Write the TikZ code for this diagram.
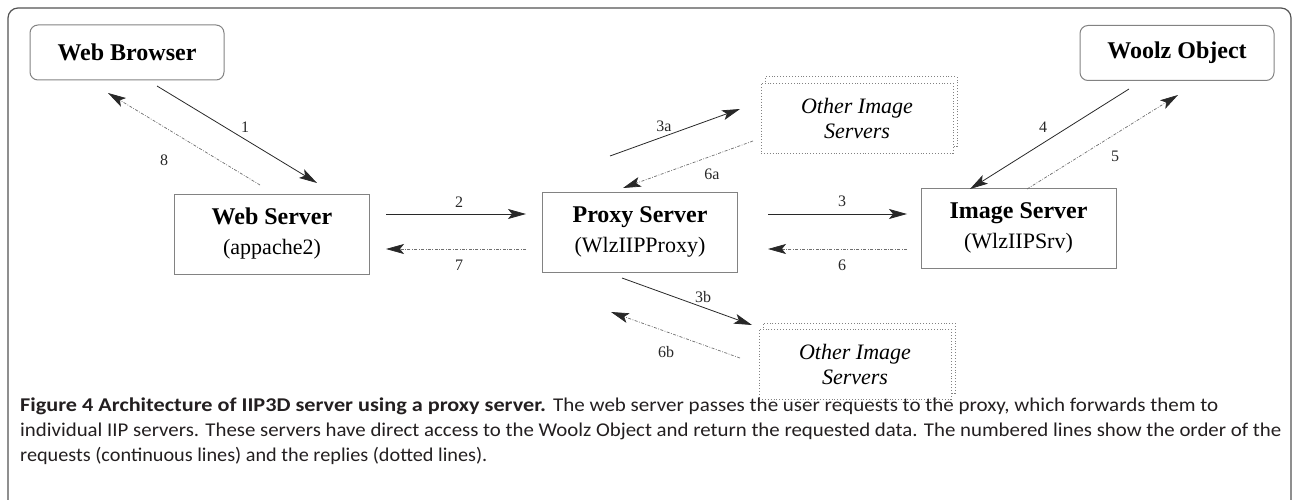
\documentclass[tikz,border=0pt]{standalone}
\usepackage{fontspec}
\usepackage{graphicx}
\setmainfont{Liberation Serif}
\newfontfamily\capfont{Carlito}
\usetikzlibrary{arrows.meta}
\definecolor{boxgray}{RGB}{130,130,130}
\definecolor{arrowc}{RGB}{40,40,40}
\definecolor{repc}{RGB}{110,110,110}
\definecolor{capc}{RGB}{35,31,32}
\tikzset{
  box/.style={draw=boxgray, line width=1pt, minimum width=195pt, minimum height=80pt, align=center, inner sep=0pt, font=\fontsize{22}{30}\selectfont},
  rbox/.style={box, rounded corners=8pt, minimum width=194pt, minimum height=55pt, font=\fontsize{24}{30}\selectfont\bfseries},
  obox/.style={draw=boxgray, dotted, line width=0.9pt, minimum width=192pt, minimum height=70pt, align=center, inner sep=0pt, font=\itshape\fontsize{22}{25}\selectfont},
  req/.style={draw=arrowc, line width=0.8pt, -{Stealth[length=18pt,width=10pt,inset=4pt,arrowc]}},
  rep/.style={draw=repc, line width=0.7pt, dash pattern=on 3pt off 1.5pt on 0.8pt off 1.5pt, -{Stealth[length=18pt,width=10pt,inset=4pt,arrowc]}},
  lbl/.style={font=\fontsize{16}{16}\selectfont, text=arrowc, inner sep=0pt},
  captext/.style={anchor=base west, inner sep=0pt, text=capc, font=\capfont\fontsize{19.5}{25}\selectfont}
}
\newcommand{\ttl}[1]{{\fontsize{24}{30}\selectfont\bfseries #1}}
\newcommand{\fitw}[2]{\resizebox{#1}{\height}{#2}}
\begin{document}
\begin{tikzpicture}[x=1pt,y=-1pt]
\useasboundingbox (0,0) rectangle (1293,500);
% outer frame
\draw[draw=arrowc!80, line width=1.2pt, rounded corners=10pt] (8,520) -- (8,8) -- (1291,8) -- (1291,520);

% nodes
\node[rbox] (wb) at (127,52.5) {Web Browser};
\node[rbox] (wo) at (1177,53) {Woolz Object};
\node[box] (ws) at (272,234) {\ttl{Web Server}\\(appache2)};
\node[box] (px) at (640,232) {\ttl{Proxy Server}\\(WlzIIPProxy)};
\node[box] (is) at (1018.5,228) {\ttl{Image Server}\\(WlzIIPSrv)};

\node[obox] (otb) at (861,111.5) {};
\node[obox, fill=white] (ot) at (857,118) {Other Image\\Servers};
\node[obox] (obb) at (859,358) {};
\node[obox, fill=white] (ob) at (855,364) {Other Image\\Servers};

% arrow end points
\coordinate (a1s) at (157,86);   \coordinate (a1e) at (317,183);
\coordinate (a8s) at (260,185);  \coordinate (a8e) at (108,93);
\coordinate (a2s) at (386,214);  \coordinate (a2e) at (526,214);
\coordinate (a7s) at (526,249);  \coordinate (a7e) at (386,249);
\coordinate (a3s) at (768,214);  \coordinate (a3e) at (907,214);
\coordinate (a6s) at (907,249);  \coordinate (a6e) at (768,249);
\coordinate (a3as) at (610,156); \coordinate (a3ae) at (740,109);
\coordinate (a6as) at (753,141); \coordinate (a6ae) at (623,188);
\coordinate (a3bs) at (622,278); \coordinate (a3be) at (752,325);
\coordinate (a6bs) at (740,358); \coordinate (a6be) at (611,312);
\coordinate (a4s) at (1129,89);  \coordinate (a4e) at (970,189);
\coordinate (a5s) at (1027,189); \coordinate (a5e) at (1178,95);

% requests
\draw[req] (a1s) -- (a1e);
\draw[req] (a2s) -- (a2e);
\draw[req] (a3s) -- (a3e);
\draw[req] (a3as) -- (a3ae);
\draw[req] (a3bs) -- (a3be);
\draw[req] (a4s) -- (a4e);
% replies
\draw[rep] (a5s) -- (a5e);
\draw[rep] (a6s) -- (a6e);
\draw[rep] (a6as) -- (a6ae);
\draw[rep] (a6bs) -- (a6be);
\draw[rep] (a7s) -- (a7e);
\draw[rep] (a8s) -- (a8e);

% labels
\node[lbl] (l1) at (245,127) {1};
\node[lbl] (l8) at (164,160) {8};
\node[lbl] (l2) at (459,202) {2};
\node[lbl] (l7) at (459,265) {7};
\node[lbl] (l3) at (842,201) {3};
\node[lbl] (l6) at (842,265) {6};
\node[lbl] (l3a) at (664,126) {3a};
\node[lbl] (l6a) at (712,174) {6a};
\node[lbl] (l3b) at (703,297) {3b};
\node[lbl] (l6b) at (666,352) {6b};
\node[lbl] (l4) at (1043,127) {4};
\node[lbl] (l5) at (1115,156) {5};

% caption
\node[captext] (c1a) at (20,411) {\fitw{526pt}{\textbf{Figure 4 Architecture of IIP3D server using a proxy server.}}};
\node[captext] (c1b) at (553,411) {\fitw{665pt}{The web server passes the user requests to the proxy, which forwards them to}};
\node[captext] (c2) at (20,436) {\fitw{1261pt}{individual IIP servers. These servers have direct access to the Woolz Object and return the requested data. The numbered lines show the order of the}};
\node[captext] (c3) at (20,461) {\scalebox{1.038}[1]{requests (continuous lines) and the replies (dotted lines).}};
\end{tikzpicture}
\end{document}
